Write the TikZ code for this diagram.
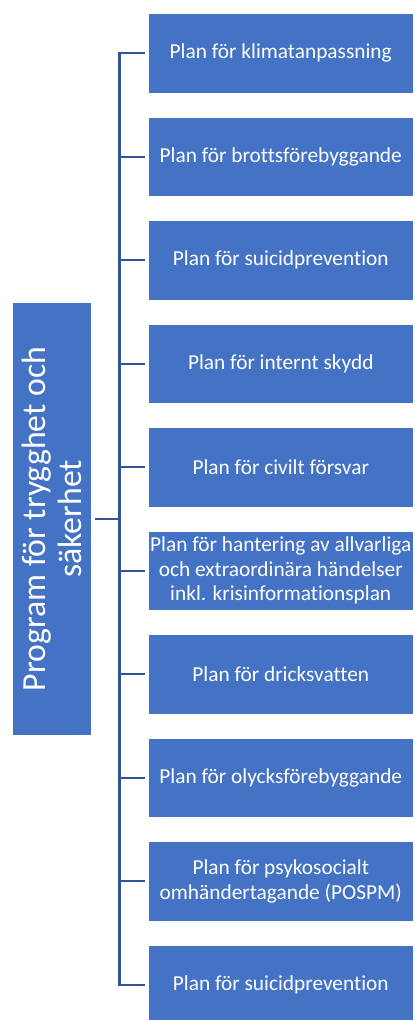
\documentclass[tikz,border=0pt]{standalone}
\usepackage{fontspec}
\setmainfont[Ligatures=NoCommon]{Carlito}
\definecolor{boxblue}{HTML}{4472C4}
\definecolor{lineblue}{HTML}{2F5597}
\begin{document}
\begin{tikzpicture}[x=0.75pt,y=-0.75pt,
  planbox/.style={draw=white, line width=0.6pt, fill=boxblue, text=white,
    minimum width=264.5*0.75pt, minimum height=79.5*0.75pt, inner sep=1pt,
    align=center, font=\fontsize{16pt}{18.4pt}\selectfont},
  rootbox/.style={draw=white, line width=0.6pt, fill=boxblue, text=white, rotate=90,
    minimum width=432.5*0.75pt, minimum height=79.5*0.75pt, inner sep=1pt,
    align=center, font=\fontsize{25.3pt}{27.5pt}\selectfont},
  conn/.style={draw=lineblue, line width=1.6pt}]
\useasboundingbox (0,0) rectangle (414,1020);
\clip (0,0) rectangle (414,1020);
\node[rootbox] (root) at (51.75,519) {Program för trygghet och\\säkerhet};
\node[planbox] (b1) at (280.75,53.25) {Plan för klimatanpassning};
\node[planbox] (b2) at (280.75,156.75) {Plan för brottsförebyggande};
\node[planbox] (b3) at (280.75,260.25) {Plan för suicidprevention};
\node[planbox] (b4) at (280.75,363.75) {Plan för internt skydd};
\node[planbox] (b5) at (280.75,467.25) {Plan för civilt försvar};
\node[planbox] (b6) at (280.75,570.75) {Plan för hantering av allvarliga\\och extraordinära händelser\\inkl. krisinformationsplan};
\node[planbox] (b7) at (280.75,674.25) {Plan för dricksvatten};
\node[planbox] (b8) at (280.75,777.75) {Plan för olycksförebyggande};
\node[planbox] (b9) at (280.75,881.25) {Plan för psykosocialt\\omhändertagande (POSPM)};
\node[planbox] (b10) at (280.75,984.75) {Plan för suicidprevention};
\coordinate (tk) at (119.5,519);
\draw[conn, shorten <=2pt, shorten >=2pt] (b1.west) -- (b1.west -| tk) -- (b10.west -| tk) -- (b10.west);
\foreach \i in {2,...,9}{
  \draw[conn, shorten <=2pt] (b\i.west) -- (b\i.west -| tk);
}
\draw[conn, shorten <=2.5pt] (root.south) -- (tk);
\end{tikzpicture}
\end{document}
